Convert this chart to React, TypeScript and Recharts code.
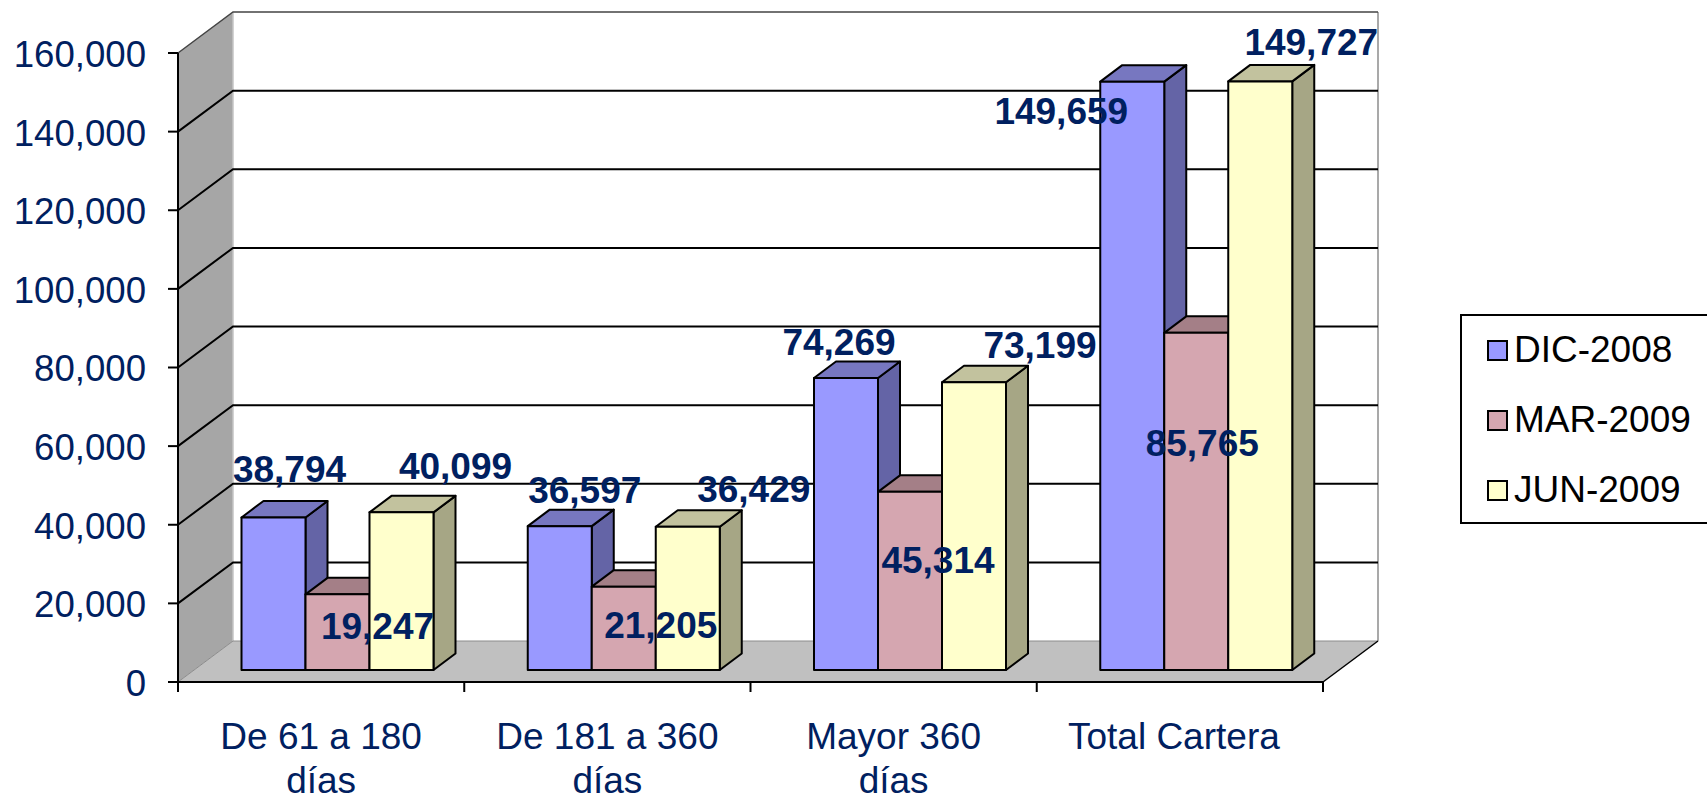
import React from 'react'
import { BarChart, Bar, CartesianGrid, LabelList, Legend, XAxis, YAxis } from 'recharts'

const categories = ['De 61 a 180 días', 'De 181 a 360 días', 'Mayor 360 días', 'Total Cartera']
const dic2008 = [38794, 36597, 74269, 149659]
const mar2009 = [19247, 21205, 45314, 85765]
const jun2009 = [40099, 36429, 73199, 149727]
const yTicks = [0, 20000, 40000, 60000, 80000, 100000, 120000, 140000, 160000]

const chartData = categories.map((name, i) => ({
    name,
    dic: dic2008[i],
    mar: mar2009[i],
    jun: jun2009[i],
}))

const NAVY = '#002060'
const FONT = '"Liberation Sans", Arial, sans-serif'

// depth of the 3d box (floor / walls) and of the bars inside it
const WALL_DX = 55
const WALL_DY = -41
const BAR_SHIFT_X = 16.5
const BAR_SHIFT_Y = -12
const BAR_DX = 22
const BAR_DY = -16.5

// hand placed data labels, relative to the bar top centre
const dicNudge = [[16, -48], [25, -36], [-7, -36], [-71, 30]]
const marNudge = [[40, 32], [37, 39], [28, 69], [6, 111]]
const junNudge = [[54, -46], [66, -37], [66, -37], [51, -39]]

// the first grid line paints the box, so the other lines land on top of the wall
const drawBox = (x: number, y: number, width: number, height: number) => {
    const bottom = y + height
    const right = x + width
    return (
        <g>
            <polygon
                points={`${x},${y} ${x + WALL_DX},${y + WALL_DY} ${x + WALL_DX},${bottom + WALL_DY} ${x},${bottom}`}
                fill="#a6a6a6"
            />
            <polygon
                points={`${x},${bottom} ${x + WALL_DX},${bottom + WALL_DY} ${right + WALL_DX},${bottom + WALL_DY} ${right},${bottom}`}
                fill="#c0c0c0"
            />
            <line x1={x + WALL_DX} y1={y + WALL_DY} x2={x + WALL_DX} y2={bottom + WALL_DY} stroke="#c4c4c4" strokeWidth={1.5} />
            <line x1={right + WALL_DX} y1={y + WALL_DY} x2={right + WALL_DX} y2={bottom + WALL_DY} stroke="#8c8c8c" strokeWidth={1.5} />
            <polyline points={`${x},${y} ${x + WALL_DX},${y + WALL_DY} ${right + WALL_DX},${y + WALL_DY}`} fill="none" stroke="#444" strokeWidth={1.5} />
            <polyline points={`${x},${bottom} ${x + WALL_DX},${bottom + WALL_DY} ${right + WALL_DX},${bottom + WALL_DY}`} fill="none" stroke="#8c8c8c" strokeWidth={1} />
            <line x1={right} y1={bottom} x2={right + WALL_DX} y2={bottom + WALL_DY} stroke="#000" strokeWidth={1.5} />
        </g>
    )
}

const GridLine = (props: any) => {
    const { x1, x2, y1, index, x, y, width, height } = props
    const isEdge = index === 0 || index === yTicks.length - 1
    return (
        <g key={index}>
            {index === 0 && drawBox(x, y, width, height)}
            {!isEdge && (
                <polyline
                    points={`${x1},${y1} ${x1 + WALL_DX},${y1 + WALL_DY} ${x2 + WALL_DX},${y1 + WALL_DY}`}
                    fill="none"
                    stroke="#000"
                    strokeWidth={2}
                />
            )}
        </g>
    )
}

const makeBox = (side: string, top: string) => (props: any) => {
    const { x, y, width, height, fill } = props
    const fx = x + BAR_SHIFT_X
    const fy = y + BAR_SHIFT_Y
    const r = fx + width
    const b = fy + height
    return (
        <g stroke="#000" strokeWidth={2} strokeLinejoin="round">
            <polygon points={`${r},${fy} ${r + BAR_DX},${fy + BAR_DY} ${r + BAR_DX},${b + BAR_DY} ${r},${b}`} fill={side} />
            <polygon points={`${fx},${fy} ${fx + BAR_DX},${fy + BAR_DY} ${r + BAR_DX},${fy + BAR_DY} ${r},${fy}`} fill={top} />
            <rect x={fx} y={fy} width={width} height={height} fill={fill} />
        </g>
    )
}

const makeLabel = (nudge: number[][]) => (props: any) => {
    const { x, y, width, value, index } = props
    const cx = x + BAR_SHIFT_X + width / 2 + nudge[index][0]
    const cy = y + BAR_SHIFT_Y + nudge[index][1]
    return (
        <text x={cx} y={cy} textAnchor="middle" dominantBaseline="central" fill={NAVY} fontFamily={FONT} fontWeight="bold" fontSize={37}>
            {Number(value).toLocaleString('en-US')}
        </text>
    )
}

const CategoryTick = (props: any) => {
    const { x, y, payload, index } = props
    const band = 1145 / categories.length
    const text: string = payload.value
    const lines = text.endsWith(' días') ? [text.slice(0, -5), 'días'] : [text]
    const textX = lines.length === 1 ? x - 6 : x
    return (
        <g>
            <line x1={x - band / 2} y1={682} x2={x - band / 2} y2={692} stroke="#000" strokeWidth={2} />
            {index === categories.length - 1 && <line x1={x + band / 2} y1={682} x2={x + band / 2} y2={692} stroke="#000" strokeWidth={2} />}
            <text textAnchor="middle" fill={NAVY} fontFamily={FONT} fontSize={37}>
                {lines.map((line, i) => (
                    <tspan key={line} x={textX} y={y + 59 + i * 44}>{line}</tspan>
                ))}
            </text>
        </g>
    )
}

const LegendBox = ({ payload }: any) => (
    <div style={{
        position: 'absolute', left: 1460, top: 314, width: 320, height: 206,
        border: '2px solid #000', background: '#fff', fontFamily: FONT, fontSize: 37, color: '#000',
    }}>
        {(payload || []).map((entry: any) => (
            <div key={entry.value} style={{ display: 'flex', alignItems: 'center', height: 70, marginTop: -1, marginBottom: 1, paddingLeft: 25 }}>
                <span style={{ width: 17, height: 17, border: '2px solid #000', background: entry.color, marginRight: 6, flex: 'none' }} />
                {entry.value}
            </div>
        ))}
    </div>
)

const App = () => (
    <div style={{ position: 'absolute', left: 0, top: 0, width: 1707, height: 797, overflow: 'hidden', background: '#fff' }}>
        <BarChart
            width={1707}
            height={797}
            data={chartData}
            barSize={64}
            barGap={0}
            margin={{ top: 53, right: 384, left: 0, bottom: 0 }}
        >
            <CartesianGrid vertical={false} horizontal={GridLine} />
            <XAxis
                dataKey="name"
                height={115}
                interval={0}
                axisLine={{ stroke: '#000', strokeWidth: 2 }}
                tickLine={false}
                tick={CategoryTick}
            />
            <YAxis
                width={178}
                domain={[0, 160000]}
                ticks={yTicks}
                interval={0}
                tickFormatter={(v: number) => v.toLocaleString('en-US')}
                axisLine={{ stroke: '#000', strokeWidth: 2 }}
                tickLine={{ stroke: '#000', strokeWidth: 2 }}
                tickSize={10}
                tickMargin={22}
                tick={{ fill: NAVY, fontFamily: FONT, fontSize: 36.6, dy: 1 }}
            />
            <Legend content={LegendBox} itemSorter={null} wrapperStyle={{ left: 0, top: 0, width: 0, height: 0, bottom: 'auto' }} />
            <Bar dataKey="dic" name="DIC-2008" fill="#9999ff" shape={makeBox('#6464a6', '#7777c0')} isAnimationActive={false}>
                <LabelList dataKey="dic" content={makeLabel(dicNudge)} />
            </Bar>
            <Bar dataKey="mar" name="MAR-2009" fill="#d5a6b0" shape={makeBox('#8b6c73', '#a47f87')} isAnimationActive={false}>
                <LabelList dataKey="mar" content={makeLabel(marNudge)} />
            </Bar>
            <Bar dataKey="jun" name="JUN-2009" fill="#ffffcc" shape={makeBox('#a6a685', '#c2c29e')} isAnimationActive={false}>
                <LabelList dataKey="jun" content={makeLabel(junNudge)} />
            </Bar>
        </BarChart>
    </div>
)

export default App
